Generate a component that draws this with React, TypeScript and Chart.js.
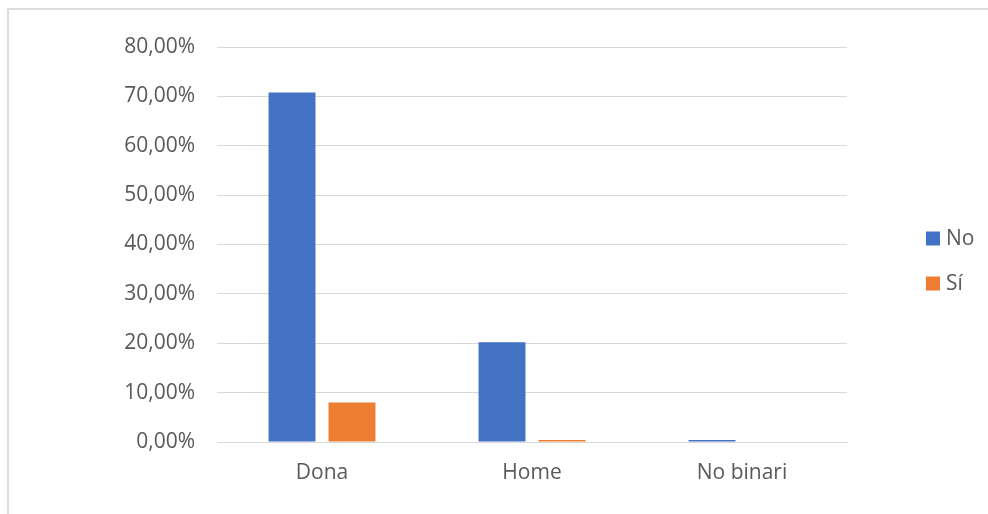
import React, { useEffect, useRef } from "react";
import { Chart, registerables } from "chart.js";

Chart.register(...registerables);

const categories = ["Dona", "Home", "No binari"];
const seriesNames = ["No", "Sí"];
const noValues = [70.8, 20.2, 0.4];
const siValues = [8.0, 0.4, 0];
const seriesColors = ["#4472C4", "#ED7D31"];
const yTicksMax = 80;
const yTickStep = 10;

const FONT = "'Open Sans', sans-serif";
const TEXT_COLOR = "#595959";
const GRID_COLOR = "#d9d9d9";

const customLegend = {
  id: "customLegend",
  afterDraw(chart: any) {
    const ctx = chart.ctx;
    const area = chart.chartArea;
    const x = area.right + 79;
    const spacing = 45;
    const n = chart.data.datasets.length;
    const centerY = chart.height / 2 - 1;
    const startY = centerY - ((n - 1) * spacing) / 2;
    ctx.save();
    ctx.font = `21px ${FONT}`;
    ctx.textBaseline = "middle";
    ctx.textAlign = "left";
    chart.data.datasets.forEach((ds: any, i: number) => {
      const y = startY + i * spacing;
      ctx.fillStyle = ds.backgroundColor;
      ctx.fillRect(x, y - 7, 14, 14);
      ctx.fillStyle = TEXT_COLOR;
      ctx.fillText(ds.label, x + 20, y + 1);
    });
    ctx.restore();
  },
};

export default function App() {
  const canvasRef = useRef<HTMLCanvasElement | null>(null);

  useEffect(() => {
    document.documentElement.style.overflow = "hidden";
    document.body.style.overflow = "hidden";
    const canvas = canvasRef.current;
    if (!canvas) return;
    const chart = new Chart(canvas, {
      type: "bar",
      data: {
        labels: categories,
        datasets: [
          {
            label: seriesNames[0],
            data: noValues,
            backgroundColor: seriesColors[0],
            categoryPercentage: 0.571,
            barPercentage: 0.783,
          },
          {
            label: seriesNames[1],
            data: siValues,
            backgroundColor: seriesColors[1],
            categoryPercentage: 0.571,
            barPercentage: 0.783,
          },
        ],
      },
      options: {
        responsive: false,
        animation: false,
        devicePixelRatio: 1,
        layout: { padding: { left: 0, right: 141, top: 37, bottom: 0 } },
        plugins: {
          legend: { display: false },
          tooltip: { enabled: false },
        },
        scales: {
          x: {
            grid: { display: false, drawTicks: false },
            border: { display: true, color: GRID_COLOR, width: 1 },
            ticks: {
              color: TEXT_COLOR,
              font: { family: FONT, size: 21 },
              padding: 18,
            },
            afterFit(scale: any) {
              scale.height = 72;
            },
          },
          y: {
            min: 0,
            max: yTicksMax,
            grid: { color: GRID_COLOR, drawTicks: false, lineWidth: 1 },
            border: { display: false },
            ticks: {
              stepSize: yTickStep,
              color: TEXT_COLOR,
              font: { family: FONT, size: 21 },
              padding: 22,
              callback: (v: any) => Number(v).toFixed(2).replace(".", ",") + "%",
            },
            afterFit(scale: any) {
              scale.width = 208;
            },
          },
        },
      },
      plugins: [customLegend],
    });
    return () => chart.destroy();
  }, []);

  return (
    <div
      style={{
        position: "fixed",
        left: 7,
        top: 8,
        width: 981,
        height: 506,
        boxSizing: "border-box",
        borderLeft: "2px solid #dcdcdc",
        borderTop: "2px solid #dcdcdc",
        overflow: "hidden",
        background: "#fff",
      }}
    >
      <canvas ref={canvasRef} width={979} height={504} style={{ display: "block" }} />
    </div>
  );
}
